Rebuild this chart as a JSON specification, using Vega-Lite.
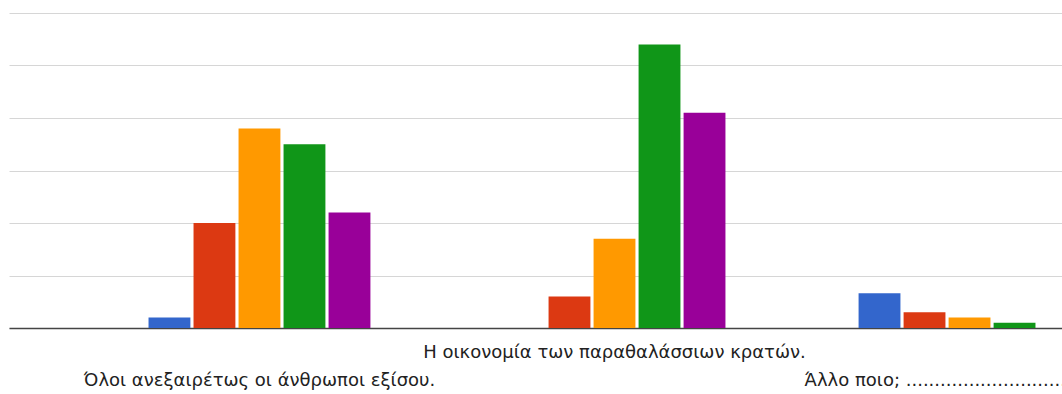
{
  "$schema": "https://vega.github.io/schema/vega-lite/v6.json",
  "autosize": {"type": "none"},
  "padding": {"left": 9, "top": 13, "right": 0, "bottom": 66},
  "width": 1053,
  "height": 315,
  "background": "white",
  "config": {
    "view": {"stroke": null},
    "font": "DejaVu Sans"
  },
  "data": {
    "values": [
      {"option": "Όλοι ανεξαιρέτως οι άνθρωποι εξίσου.", "series": "1", "value": 2},
      {"option": "Όλοι ανεξαιρέτως οι άνθρωποι εξίσου.", "series": "2", "value": 20},
      {"option": "Όλοι ανεξαιρέτως οι άνθρωποι εξίσου.", "series": "3", "value": 38},
      {"option": "Όλοι ανεξαιρέτως οι άνθρωποι εξίσου.", "series": "4", "value": 35},
      {"option": "Όλοι ανεξαιρέτως οι άνθρωποι εξίσου.", "series": "5", "value": 22},
      {"option": "Η οικονομία των παραθαλάσσιων κρατών.", "series": "1", "value": 0},
      {"option": "Η οικονομία των παραθαλάσσιων κρατών.", "series": "2", "value": 6},
      {"option": "Η οικονομία των παραθαλάσσιων κρατών.", "series": "3", "value": 17},
      {"option": "Η οικονομία των παραθαλάσσιων κρατών.", "series": "4", "value": 54},
      {"option": "Η οικονομία των παραθαλάσσιων κρατών.", "series": "5", "value": 41},
      {"option": "Άλλο ποιο; ........................................", "series": "1", "value": 6.6},
      {"option": "Άλλο ποιο; ........................................", "series": "2", "value": 3},
      {"option": "Άλλο ποιο; ........................................", "series": "3", "value": 2},
      {"option": "Άλλο ποιο; ........................................", "series": "4", "value": 1},
      {"option": "Άλλο ποιο; ........................................", "series": "5", "value": 0}
    ]
  },
  "mark": {"type": "bar"},
  "encoding": {
    "x": {
      "field": "option",
      "type": "nominal",
      "sort": null,
      "title": null,
      "scale": {
        "domain": ["Όλοι ανεξαιρέτως οι άνθρωποι εξίσου.", "Η οικονομία των παραθαλάσσιων κρατών.", "Άλλο ποιο; ........................................"],
        "range": [0, 1211],
        "paddingInner": 0.375,
        "paddingOuter": 0.393
      },
      "axis": {
        "ticks": false,
        "labelAngle": 0,
        "labelFontSize": 18,
        "labelColor": "#222222",
        "labelBaseline": "top",
        "labelAlign": "center",
        "labelLimit": 0,
        "labelOverlap": false,
        "labelBound": false,
        "labelFlush": false,
        "labelPadding": {"condition": {"test": "datum.index > 0.3 && datum.index < 0.7", "value": 15}, "value": 43},
        "domainColor": "#444444",
        "domainWidth": 1.5
      }
    },
    "xOffset": {
      "field": "series",
      "type": "nominal",
      "scale": {"paddingInner": 0.07, "paddingOuter": 0}
    },
    "y": {
      "field": "value",
      "type": "quantitative",
      "title": null,
      "scale": {"domain": [0, 60], "nice": false},
      "axis": {
        "labels": false,
        "ticks": false,
        "domain": false,
        "values": [0, 10, 20, 30, 40, 50, 60],
        "gridColor": "#d6d6d6",
        "gridWidth": 1
      }
    },
    "color": {
      "field": "series",
      "type": "nominal",
      "legend": null,
      "scale": {
        "domain": ["1", "2", "3", "4", "5"],
        "range": ["#3366cc", "#dc3912", "#ff9900", "#109618", "#990099"]
      }
    }
  }
}
